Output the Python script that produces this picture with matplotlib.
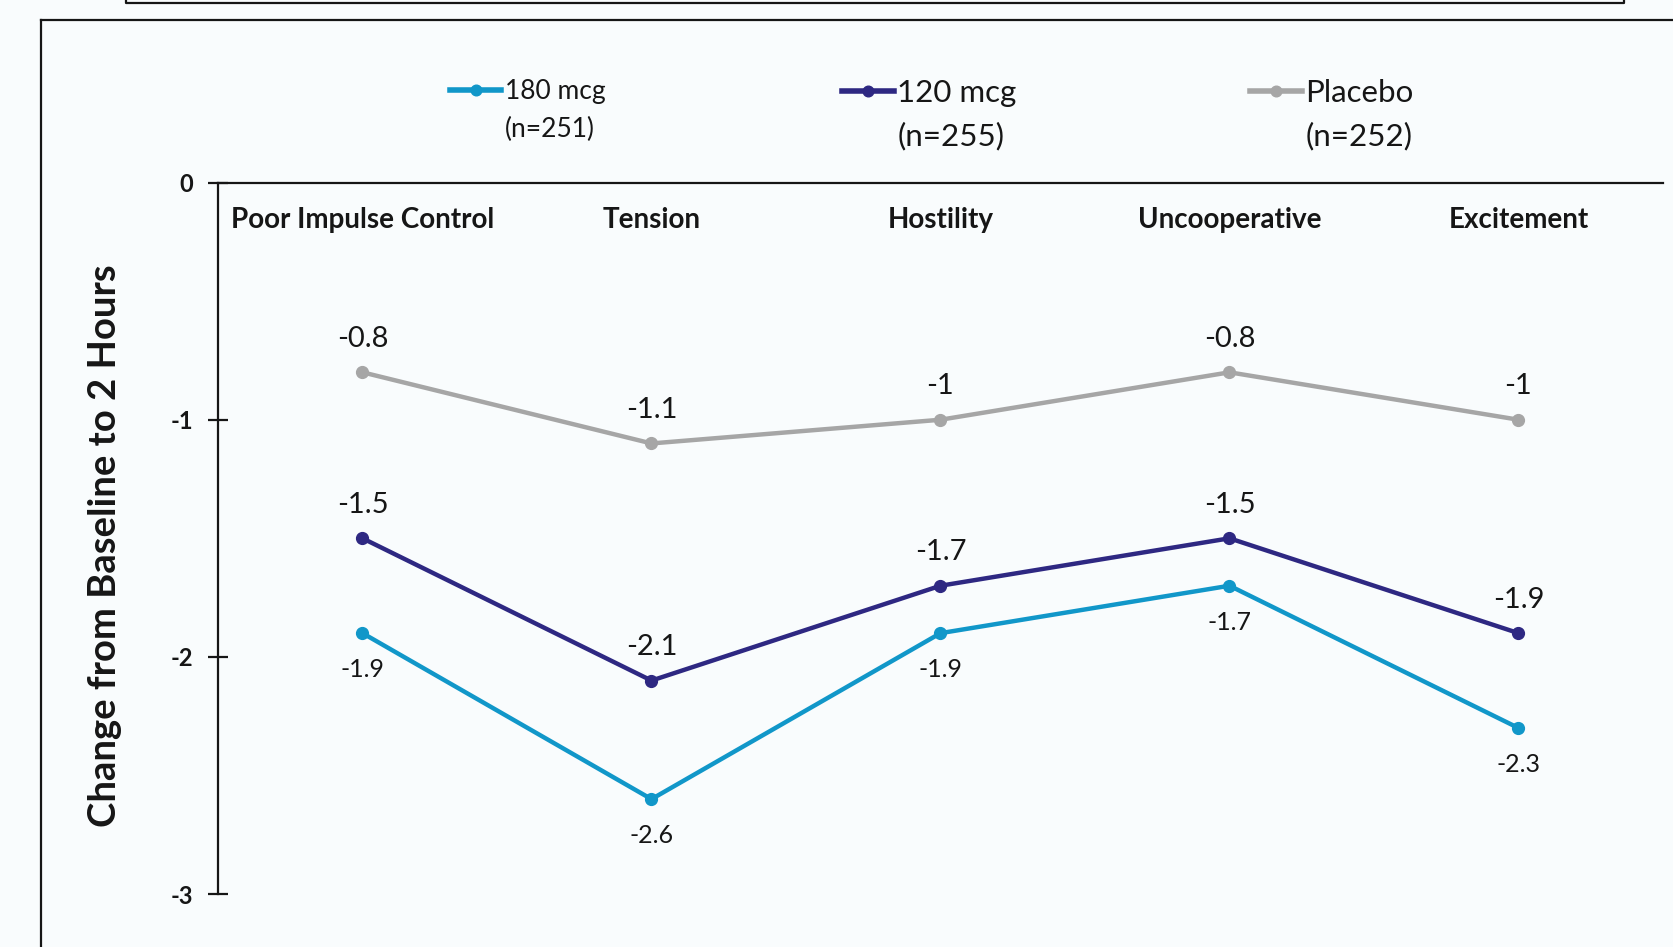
import matplotlib
matplotlib.use("Agg")
import matplotlib.pyplot as plt
from matplotlib.lines import Line2D

plt.rcParams['font.family'] = ['Lato', 'DejaVu Sans']

categories = ["Poor Impulse Control", "Tension", "Hostility", "Uncooperative", "Excitement"]
series_names = ["180 mcg", "120 mcg", "Placebo"]
series_n = ["(n=251)", "(n=255)", "(n=252)"]
vals_180 = [-1.9, -2.6, -1.9, -1.7, -2.3]
vals_120 = [-1.5, -2.1, -1.7, -1.5, -1.9]
vals_placebo = [-0.8, -1.1, -1.0, -0.8, -1.0]
yticks = [0, -1, -2, -3]
ytick_labels = ["0", "-1", "-2", "-3"]

colors = ["#1197c9", "#2e2882", "#a6a6a6"]
bg = "#f9fcfd"
ink = "#161616"

W, H = 1674, 947
fig = plt.figure(figsize=(W / 100, H / 100), dpi=100, facecolor=bg)
ax = fig.add_axes([218 / W, 1 - 894 / H, (1663 - 218) / W, (894 - 182.6) / H])
ax.set_facecolor(bg)

x = list(range(len(categories)))
all_vals = [vals_180, vals_120, vals_placebo]
lines = []
for vals, c in zip(all_vals, colors):
    ln, = ax.plot(x, vals, color=c, lw=3.2, marker='o', ms=8.5, zorder=3,
                  solid_joinstyle='round')
    lines.append(ln)


def fmt(v):
    s = f"{v:.1f}"
    return s[:-2] if s.endswith(".0") else s


# value labels: placebo and 120 above, 180 below
for xi, v in zip(x, vals_placebo):
    ax.annotate(fmt(v), (xi, v), xytext=(0, 24), textcoords='offset points',
                ha='center', va='center', fontsize=21, color=ink)
for xi, v in zip(x, vals_120):
    ax.annotate(fmt(v), (xi, v), xytext=(0, 24), textcoords='offset points',
                ha='center', va='center', fontsize=21, color=ink)
for xi, v in zip(x, vals_180):
    ax.annotate(fmt(v), (xi, v), xytext=(0, -26.5), textcoords='offset points',
                ha='center', va='center', fontsize=18, color=ink)

ax.set_xlim(-0.5, 4.5)
ax.set_ylim(-3, 0)

for s in ['right', 'bottom']:
    ax.spines[s].set_visible(False)
for s in ['left', 'top']:
    ax.spines[s].set_linewidth(1.6)
    ax.spines[s].set_color(ink)

ax.set_yticks(yticks)
ax.set_yticklabels(ytick_labels, fontsize=17, fontweight='bold', color=ink)
ax.tick_params(axis='y', direction='inout', length=14, width=1.6, pad=11, color=ink)
ax.set_xticks([])

# category names just under the zero line
for xi, cat in zip(x, categories):
    ax.text(xi, 1 - 37.5 / 711, cat, transform=ax.get_xaxis_transform(),
            ha='center', va='center', fontsize=20, fontweight='bold', color=ink)

ax.set_ylabel("Change from Baseline to 2 Hours", fontsize=27.5, fontweight='bold', color=ink)
ax.yaxis.label.set_va('center')
ax.yaxis.set_label_coords((105 - 218) / (1663 - 218), 0.49)

# legend: one entry per series with its sample size underneath
leg_specs = [
    (450, 92, 129.5, 19, 1.95),
    (842, 93, 136, 22.5, 1.65),
    (1250, 93, 136, 22.5, 1.65),
]
for ln, name, n, (lx, ly, ny, fs, hl) in zip(lines, series_names, series_n, leg_specs):
    leg = fig.legend([ln], [name], loc='center left', bbox_to_anchor=(lx / W, 1 - ly / H),
                     frameon=False, fontsize=fs, handlelength=hl, handletextpad=0.12,
                     borderpad=0, borderaxespad=0, markerscale=0.9)
    for t in leg.get_texts():
        t.set_color(ink)
    for h in leg.legend_handles:
        h.set_linewidth(4.0)
    tx = leg.get_texts()[0]
    fig.canvas.draw()
    bb = tx.get_window_extent()
    fig.text(bb.x0 / W, 1 - ny / H, n, ha='left', va='center', fontsize=fs, color=ink)

# framing rules around the chart area
fig.add_artist(Line2D([40.6 / W, 1], [1 - 20.3 / H, 1 - 20.3 / H], transform=fig.transFigure,
                      color=ink, lw=1.6))
fig.add_artist(Line2D([40.6 / W, 40.6 / W], [0, 1 - 20.3 / H], transform=fig.transFigure,
                      color=ink, lw=1.6))
fig.add_artist(Line2D([126 / W, 126 / W, 1624 / W, 1624 / W], [1, 1 - 3.2 / H, 1 - 3.2 / H, 1],
                      transform=fig.transFigure, color=ink, lw=1.6))

fig.savefig("out.png", dpi=100, facecolor=bg)
